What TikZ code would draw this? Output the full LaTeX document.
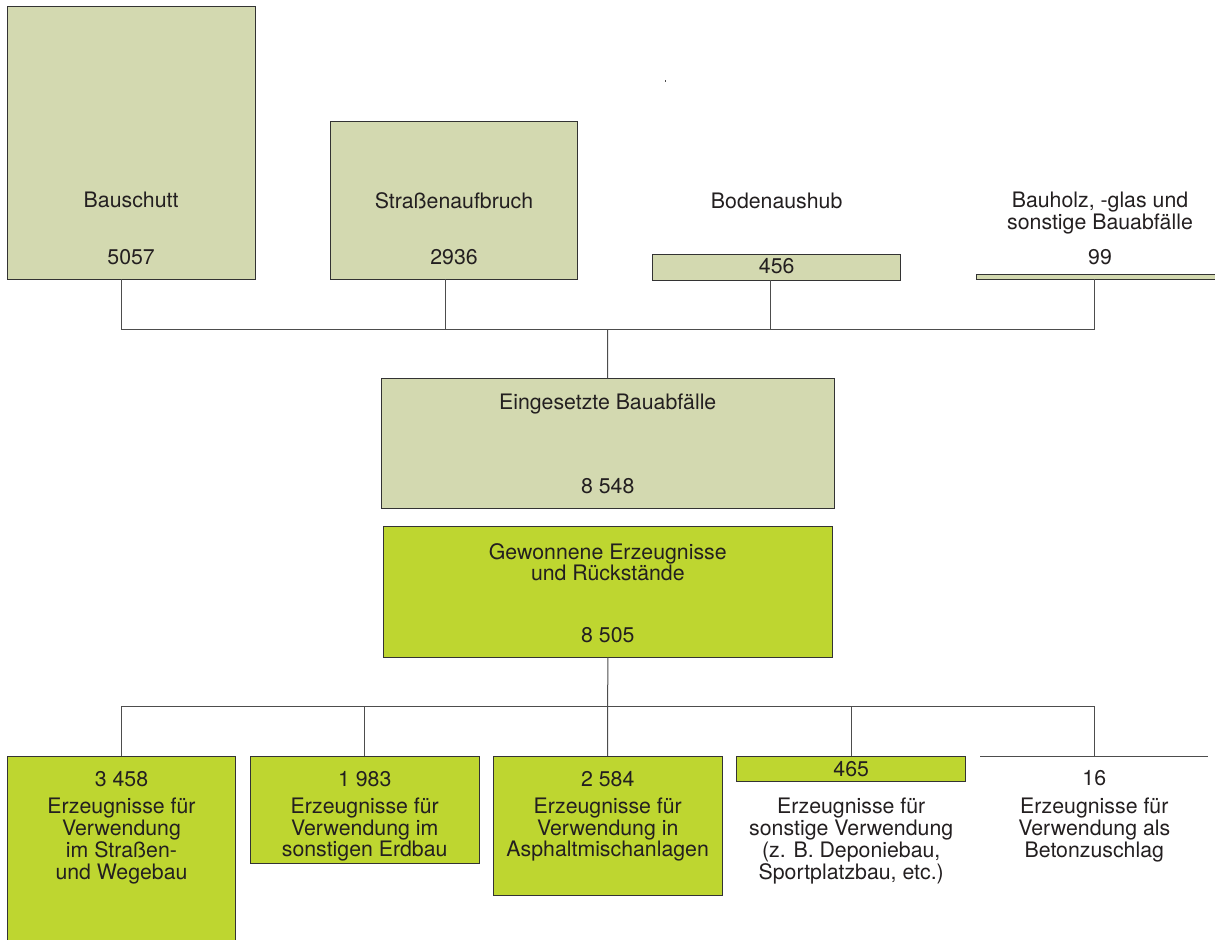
\documentclass[tikz,border=0pt]{standalone}
\usepackage{fontspec}
\setmainfont{TeX Gyre Heros}
\usetikzlibrary{fit}
\definecolor{pale}{HTML}{D3D9B0}
\definecolor{lime}{HTML}{BED630}
\definecolor{txt}{HTML}{231F20}
\definecolor{boxline}{HTML}{333333}
\definecolor{connline}{HTML}{4D4D4D}
\newcommand\dfont{\fontsize{21.3bp}{21.7bp}\selectfont}
\begin{document}
\begin{tikzpicture}[x=1bp,y=-1bp,
  box/.style={draw=boxline, line width=1bp, inner sep=0pt, outer sep=0pt},
  pbox/.style={box, fill=pale},
  lbox/.style={box, fill=lime},
  lbl/.style={font=\dfont, text=txt, align=center, anchor=base, inner sep=0pt},
  conn/.style={draw=connline, line width=1bp}]
\clip (0,0) rectangle (1215,940);
\fill[white] (0,0) rectangle (1215,940);
% top boxes
\node[pbox, fit={(7.3,6.7) (255,279.3)}] (bau) {};
\node[pbox, fit={(330.3,121.7) (577.7,279.3)}] (str) {};
\node[pbox, fit={(652.7,254.7) (900.7,280)}] (bod) {};
\node[pbox, fit={(976,274.3) (1225,279.3)}] (hol) {};
\node[lbl] (tbau) at (131.1,207.5) {Bauschutt};
\node[lbl] (nbau) at (131.1,264.3) {5057};
\node[lbl] (tstr) at (454,208.5) {Straßenaufbruch};
\node[lbl] (nstr) at (454,264.2) {2936};
\node[lbl] (tbod) at (776.7,208) {Bodenaushub};
\node[lbl] (nbod) at (776.7,273.3) {456};
\node[lbl] (thol) at (1100,229) {Bauholz, -glas und\\sonstige Bauabfälle};
\node[lbl] (nhol) at (1100,264) {99};
% stray mark
\fill[connline] (664.6,80.3) rectangle (665.6,82.3);
% middle boxes
\node[pbox, fit={(381,378.3) (834.3,508.7)}] (ein) {};
\node[lbl] (tein) at (607.7,409.3) {Eingesetzte Bauabfälle};
\node[lbl] (nein) at (607.7,493.3) {8 548};
\node[lbox, fit={(383.3,526.7) (832.3,657.3)}] (gew) {};
\node[lbl] (tgew) at (607.8,580.7) {Gewonnene Erzeugnisse\\und Rückstände};
\node[lbl] (ngew) at (607.8,642.7) {8 505};
% bottom boxes
\node[lbox, fit={(7.3,756) (235.7,945)}] (b1) {};
\node[lbox, fit={(250.3,756) (479,863)}] (b2) {};
\node[lbox, fit={(493.3,756) (722,895.3)}] (b3) {};
\node[lbox, fit={(736.7,756) (965.7,781.3)}] (b4) {};
\coordinate (b5l) at (980,756);
\coordinate (b5r) at (1208,756);
\draw[conn] (b5l) -- (b5r);
\node[lbl] (nb1) at (121.5,786) {3 458};
\node[lbl] (tb1) at (121.5,879) {Erzeugnisse für\\Verwendung\\im Straßen-\\und Wegebau};
\node[lbl] (nb2) at (364.7,786) {1 983};
\node[lbl] (tb2) at (364.7,856.7) {Erzeugnisse für\\Verwendung im\\sonstigen Erdbau};
\node[lbl] (nb3) at (607.7,786) {2 584};
\node[lbl] (tb3) at (607.7,856.7) {Erzeugnisse für\\Verwendung in\\Asphaltmischanlagen};
\node[lbl] (nb4) at (851.2,776) {465};
\node[lbl] (tb4) at (851.2,879) {Erzeugnisse für\\sonstige Verwendung\\(z. B. Deponiebau,\\Sportplatzbau, etc.)};
\node[lbl] (nb5) at (1094.3,785) {16};
\node[lbl] (tb5) at (1094.3,857.2) {Erzeugnisse für\\Verwendung als\\Betonzuschlag};
% top connectors
\coordinate (jt) at (607.7,329);
\coordinate (cbau) at (121.3,279.3);
\coordinate (cstr) at (445.7,279.3);
\coordinate (cbod) at (770,280);
\coordinate (chol) at (1094.3,279.3);
\draw[conn] (cbau) |- (jt);
\draw[conn] (chol) |- (jt);
\draw[conn] (cstr) -- (cstr |- jt);
\draw[conn] (cbod) -- (cbod |- jt);
\draw[conn] (jt) -- (ein.north);
% bottom connectors
\coordinate (jb) at (607.7,706.7);
\coordinate (c5) at (1094.3,756);
\draw[conn] (gew.south) -- (jb);
\draw[conn] (b1.north) |- (jb);
\draw[conn] (c5) |- (jb);
\draw[conn] (b2.north) -- (b2.north |- jb);
\draw[conn] (b3.north) -- (jb);
\draw[conn] (b4.north) -- (b4.north |- jb);
\end{tikzpicture}
\end{document}
